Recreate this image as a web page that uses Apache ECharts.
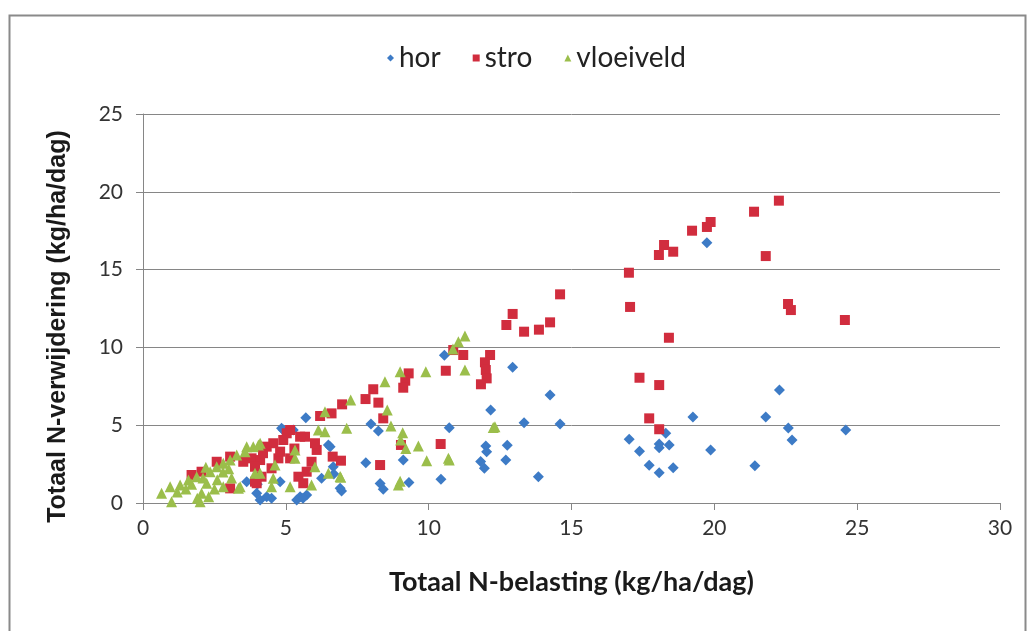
<!DOCTYPE html>
<html>
<head>
<meta charset="utf-8">
<script src="https://cdn.jsdelivr.net/npm/echarts@6/dist/echarts.min.js"></script>
<style>
  html, body { margin: 0; padding: 0; background: #ffffff; }
  #chart { width: 1034px; height: 631px; }
</style>
</head>
<body>
<div id="chart"></div>
<script>
// Series names (legend order)
const seriesNames = ['hor', 'stro', 'vloeiveld'];

// Axis ticks
const xTicks = [0, 5, 10, 15, 20, 25, 30];
const yTicks = [0, 5, 10, 15, 20, 25];

// [Totaal N-belasting, Totaal N-verwijdering] in kg/ha/dag
const horData = [
  [19.74,16.73],[18.3,4.48],[17.02,4.09],[17.38,3.32],[18.07,3.79],[18.42,3.73],[18.07,3.55],
  [17.72,2.42],[18.07,1.95],[18.56,2.27],[19.25,5.53],[19.87,3.41],[22.28,7.26],[21.8,5.53],
  [22.59,4.82],[22.72,4.05],[21.42,2.4],[24.6,4.69],
  [12.94,8.72],[14.25,6.94],[12.17,5.98],[13.34,5.16],[14.6,5.08],[10.72,4.84],[12.0,3.66],
  [12.03,3.3],[12.75,3.71],[11.82,2.66],[11.95,2.23],[12.7,2.76],[13.84,1.69],[10.43,1.52],
  [10.55,9.5],[7.98,5.08],[8.24,4.63],[7.8,2.59],[9.11,2.76],[8.3,1.26],[8.41,0.88],[9.31,1.31],
  [6.68,1.86],[6.95,0.77],
  [5.7,5.48],[4.91,4.69],[4.85,4.8],[5.26,4.69],[6.49,3.73],[6.55,3.62],[6.66,2.33],[6.25,1.59],
  [6.9,0.94],[3.63,1.37],[3.98,0.62],[4.33,0.4],[4.8,1.37],[5.5,0.4],[5.73,0.51],[5.38,0.19],
  [4.1,0.19],[4.5,0.3],[5.6,0.3],[4.0,1.2]
];

const stroData = [
  [22.26,19.43],[21.39,18.72],[19.87,18.06],[19.74,17.74],[19.22,17.5],[18.24,16.58],[18.06,15.94],
  [18.56,16.15],[21.8,15.87],[17.01,14.8],[17.05,12.6],[22.58,12.79],[22.68,12.4],[24.57,11.76],
  [18.41,10.62],[17.38,8.05],[18.07,7.58],[17.72,5.44],[18.07,4.74],
  [14.6,13.41],[12.94,12.15],[12.72,11.44],[13.34,11.01],[13.86,11.14],[14.25,11.61],[10.86,9.83],
  [11.21,9.51],[12.15,9.51],[11.97,9.04],[12.0,8.55],[12.03,8.01],[11.83,7.63],[10.6,8.5],[10.42,3.79],
  [9.3,8.33],[9.18,7.86],[9.11,7.41],[8.06,7.31],[7.79,6.68],[8.24,6.45],[6.97,6.34],[6.6,5.76],
  [6.2,5.59],[8.41,5.44],[9.03,3.73],[8.3,2.44],[6.64,2.98],[6.93,2.72],
  [6.08,3.41],[6.02,3.84],[5.67,4.26],[5.5,4.26],[5.15,4.69],[5.03,4.48],[4.91,4.05],[4.56,3.84],
  [4.33,3.62],[3.8,2.87],[3.51,2.65],[4.1,2.76],[4.74,2.87],[5.15,2.87],[4.5,2.23],[4.15,1.69],
  [3.98,1.27],[5.44,1.69],[5.61,1.27],[5.73,2.01],[5.9,2.65],[1.7,1.8],[2.05,2.01],[2.58,2.65],
  [3.05,2.98],[3.05,0.94],[3.92,2.33],[3.92,1.37],[4.2,3.2],[4.8,3.3],[5.3,3.5]
];

const vloeiveldData = [
  [11.27,10.73],[11.04,10.37],[11.27,8.55],[12.32,4.9],[10.72,2.76],[10.85,9.9],
  [9.0,8.44],[9.9,8.44],[8.47,7.8],[7.27,6.62],[8.55,5.98],[8.68,4.95],[7.13,4.8],[9.09,4.52],
  [9.2,3.51],[9.02,4.05],[9.64,3.66],[9.93,2.72],[10.69,2.87],[12.26,4.86],[8.94,1.16],[6.92,1.65],
  [9.0,1.4],[6.37,5.87],[6.14,4.69],[6.37,4.58],
  [4.1,3.84],[3.63,3.62],[5.32,3.41],[4.62,2.44],[4.1,1.91],[4.56,1.59],[6.02,2.33],[6.49,1.91],
  [6.9,1.7],[5.9,1.16],[5.15,1.05],[4.5,1.05],[3.92,1.91],[5.32,2.87],[3.4,1.05],
  [0.65,0.62],[1.0,0.08],[0.95,1.05],[1.3,1.16],[1.59,1.48],[1.88,1.69],[2.05,0.62],[2.0,0.08],
  [2.23,1.27],[2.35,2.01],[2.58,2.33],[2.81,2.55],[3.05,2.76],[3.28,3.08],[3.57,3.3],[3.86,3.62],
  [4.04,3.73],[3.34,0.94],[2.81,1.05],[2.6,1.5],[2.8,2.0],[1.2,0.7],[1.5,0.9],[2.1,1.6],[2.3,0.4],
  [1.9,0.3],[3.1,1.6],[3.0,2.2],[2.2,2.3],[1.7,1.2],[2.5,0.9]
];

const colors = { hor: '#3D7BC6', stro: '#D12D3E', vloeiveld: '#9BBE4B' };
const textFont = 'Lato, "Open Sans", sans-serif';

const chart = echarts.init(document.getElementById('chart'), null, { renderer: 'canvas' });

chart.setOption({
  animation: false,
  backgroundColor: '#ffffff',
  graphic: [{
    type: 'rect',
    left: 7, top: 13,
    shape: { width: 1016, height: 640 },
    style: { fill: 'none', stroke: '#8a8a8a', lineWidth: 2 },
    silent: true
  }],
  legend: {
    data: seriesNames.map(n => ({
      name: n,
      icon: n === 'hor' ? 'diamond' : (n === 'stro' ? 'rect' : 'triangle')
    })),
    top: 39,
    left: 382,
    itemWidth: 7,
    itemHeight: 7,
    itemGap: 32,
    textStyle: { fontFamily: textFont, fontSize: 28, color: '#222' }
  },
  grid: { left: 143, right: 34, top: 114, bottom: 128, containLabel: false },
  xAxis: {
    type: 'value',
    min: xTicks[0], max: xTicks[xTicks.length - 1], interval: 5,
    name: 'Totaal N-belasting (kg/ha/dag)',
    nameLocation: 'middle',
    nameGap: 66,
    nameTextStyle: { fontFamily: textFont, fontSize: 27, fontWeight: 'bold', color: '#1a1a1a' },
    axisLine: { show: true, lineStyle: { color: '#868686', width: 1 } },
    axisTick: { show: true, length: 7, inside: false, lineStyle: { color: '#868686' } },
    axisLabel: { fontFamily: textFont, fontSize: 21, color: '#333', margin: 15 },
    splitLine: { show: false }
  },
  yAxis: {
    type: 'value',
    min: yTicks[0], max: yTicks[yTicks.length - 1], interval: 5,
    name: 'Totaal N-verwijdering (kg/ha/dag)',
    nameLocation: 'middle',
    nameGap: 72,
    nameTextStyle: {
      fontFamily: '"Liberation Sans", Arial, sans-serif', fontSize: 25, fontWeight: 'bold',
      color: '#1a1a1a', padding: [0, 36, 0, 0]
    },
    axisLine: { show: true, lineStyle: { color: '#868686', width: 1 } },
    axisTick: { show: true, length: 7, inside: false, lineStyle: { color: '#868686' } },
    axisLabel: { fontFamily: textFont, fontSize: 21, color: '#333', margin: 20 },
    splitLine: { show: true, lineStyle: { color: '#868686', width: 1 } }
  },
  series: [
    {
      name: 'hor', type: 'scatter', symbol: 'diamond', symbolSize: 11,
      itemStyle: { color: colors.hor, opacity: 1 },
      data: horData, z: 2
    },
    {
      name: 'stro', type: 'scatter', symbol: 'rect', symbolSize: 10,
      itemStyle: { color: colors.stro, opacity: 1 },
      data: stroData, z: 3
    },
    {
      name: 'vloeiveld', type: 'scatter', symbol: 'triangle', symbolSize: 11,
      itemStyle: { color: colors.vloeiveld, opacity: 1 },
      data: vloeiveldData, z: 4
    }
  ]
});
</script>
</body>
</html>
